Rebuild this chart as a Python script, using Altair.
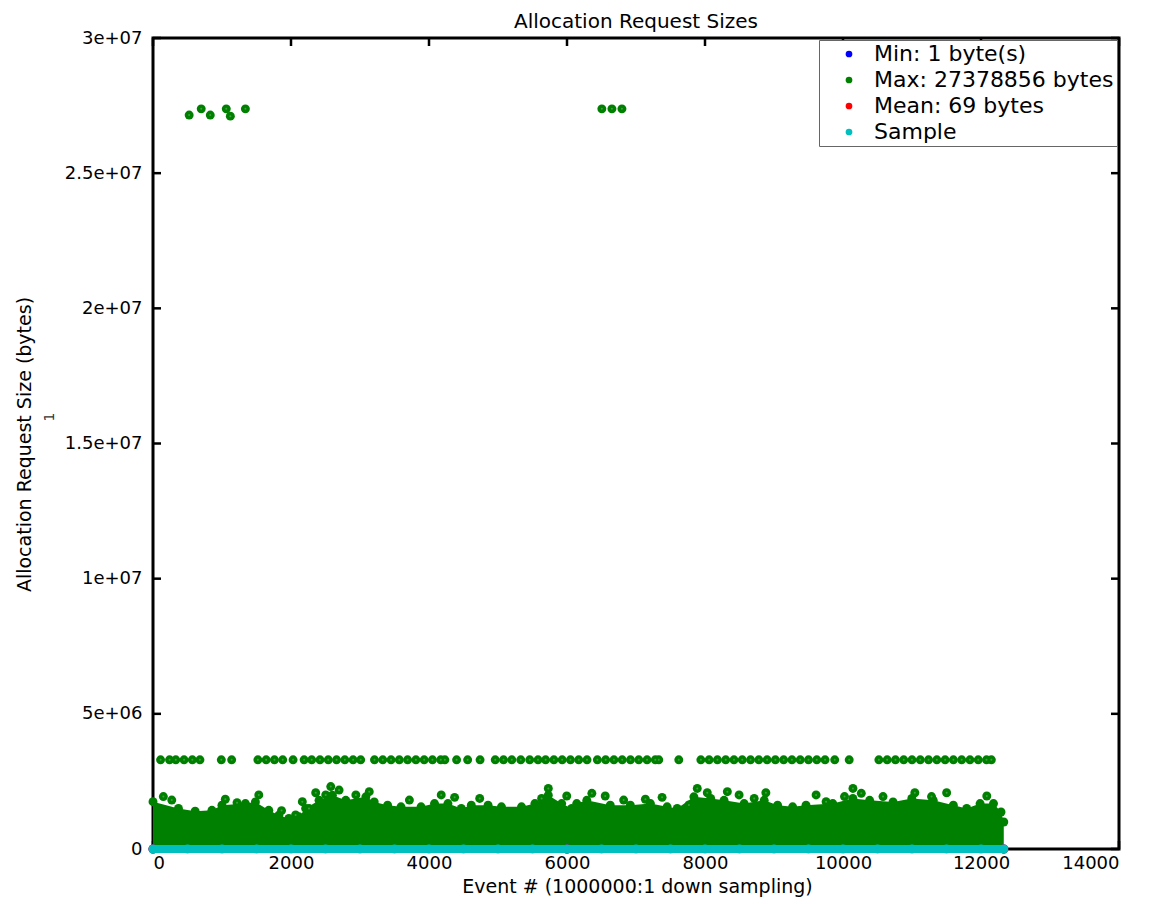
import altair as alt
import pandas as pd

# ---------------- data ----------------
X_TICKS = [0, 2000, 4000, 6000, 8000, 10000, 12000, 14000]
Y_TICKS = [0, 5000000, 10000000, 15000000, 20000000, 25000000, 30000000]
Y_TICK_LABELS = ["0", "5e+06", "1e+07", "1.5e+07", "2e+07", "2.5e+07", "3e+07"]

SERIES = ["Min: 1 byte(s)", "Max: 27378856 bytes", "Mean: 69 bytes", "Sample"]
COLORS = ["#0000ff", "#008000", "#ff0000", "#00bfbf"]

# Max: upper edge of the dense cloud of maxima (bytes)
body_x = [0, 369, 611, 854, 999, 1339, 1484, 1678, 1824, 1969, 2115, 2212, 2406, 2600,
          2794, 3085, 3206, 3400, 3594, 3885, 4080, 4274, 4468, 4613, 4856, 5050, 5341,
          5535, 5729, 5923, 6068, 6141, 6287, 6627, 6918, 7209, 7451, 7597, 7839, 8082,
          8276, 8567, 8858, 9052, 9270, 9464, 9852, 10143, 10386, 10725, 10997, 11308,
          11599, 11793, 11987, 12181, 12290, 12330]
body_y = [1.75e6, 1.50e6, 1.40e6, 1.43e6, 1.62e6, 1.68e6, 1.74e6, 1.43e6, 1.25e6, 1.13e6,
          1.19e6, 1.50e6, 1.80e6, 1.99e6, 1.80e6, 1.93e6, 1.74e6, 1.62e6, 1.56e6, 1.56e6,
          1.68e6, 1.68e6, 1.50e6, 1.62e6, 1.62e6, 1.56e6, 1.56e6, 1.68e6, 1.99e6, 1.68e6,
          1.50e6, 1.68e6, 1.80e6, 1.62e6, 1.62e6, 1.68e6, 1.56e6, 1.50e6, 1.93e6, 1.87e6,
          1.80e6, 1.68e6, 1.80e6, 1.62e6, 1.56e6, 1.62e6, 1.68e6, 1.87e6, 1.80e6, 1.74e6,
          1.87e6, 1.80e6, 1.62e6, 1.50e6, 1.68e6, 1.68e6, 1.37e6, 1.00e6]

# Max: single maxima standing above the cloud
peak_x = [150, 272, 1048, 1218, 1533, 1863, 2067, 2164, 2261, 2358, 2503, 2576, 2697, 2940,
          3134, 3716, 4177, 4371, 4735, 5632, 5729, 5996, 6360, 6554, 6821, 7136, 7378,
          7767, 7888, 8033, 8324, 8494, 8713, 8882, 9610, 9755, 10022, 10144, 10265, 10580,
          11041, 11283, 11502, 12084]
peak_y = [1.94e6, 1.81e6, 1.84e6, 1.71e6, 2.00e6, 1.42e6, 1.26e6, 1.75e6, 1.50e6, 2.08e6,
          2.00e6, 2.31e6, 2.18e6, 2.00e6, 2.12e6, 1.81e6, 2.00e6, 1.91e6, 1.87e6, 1.87e6,
          2.24e6, 1.96e6, 2.06e6, 1.96e6, 1.81e6, 1.84e6, 1.91e6, 1.63e6, 2.24e6, 2.08e6,
          2.12e6, 2.00e6, 1.87e6, 2.08e6, 2.00e6, 1.75e6, 1.94e6, 2.24e6, 2.06e6, 1.94e6,
          2.08e6, 1.94e6, 2.08e6, 1.96e6]

# Max: the recurring ~3.3 MB requests
band_x = [110, 240, 330, 450, 570, 680, 990, 1140, 1520, 1640, 1760, 1880, 2030,
          2190, 2300, 2420, 2540, 2660, 2780, 2900, 3010, 3210, 3330, 3450, 3570, 3690,
          3810, 3930, 4050, 4170, 4230, 4400, 4560, 4740, 4960, 5080, 5200, 5330, 5460,
          5580, 5690, 5810, 5930, 6050, 6170, 6290, 6440, 6560, 6680, 6800, 6920, 7040,
          7160, 7280, 7330, 7620, 7940, 8060, 8180, 8300, 8420, 8540, 8660, 8780, 8900,
          9020, 9140, 9260, 9380, 9500, 9620, 9740, 9880, 10090, 10520, 10640, 10760,
          10880, 11000, 11120, 11240, 11360, 11480, 11600, 11720, 11840, 11960, 12080, 12150]
band_y = [3300000] * len(band_x)

# Max: the largest requests (~27 MB)
top_x = [524, 699, 830, 1062, 1121, 1339, 6505, 6651, 6796]
top_y = [27150000, 27378856, 27150000, 27378856, 27110000, 27378856,
         27378856, 27378856, 27378856]

# Sample, Min, Mean (all at the bottom of the scale)
sample_x = [0, 500, 1000, 1500, 2000, 2500, 3000, 3500, 4000, 4500, 5000, 5500, 6000,
            6500, 7000, 7500, 8000, 8500, 9000, 9500, 10000, 10500, 11000, 11500, 12000, 12330]
sample_y = [64, 48, 72, 32, 96, 40, 64, 56, 80, 24, 64, 48, 72, 88, 40, 64, 56, 32, 72,
            48, 64, 80, 40, 56, 64, 48]
min_x = [0, 6000, 12330]
min_y = [1, 1, 1]
mean_x = [0, 6000, 12330]
mean_y = [69, 69, 69]

# ---------------- tables ----------------
def frame(xs, ys, s):
    return pd.DataFrame({"x": xs, "y": ys, "series": s})

points = pd.concat([
    frame(min_x, min_y, SERIES[0]),
    frame(mean_x, mean_y, SERIES[2]),
    frame(body_x, body_y, SERIES[1]),
    frame(peak_x, peak_y, SERIES[1]),
    frame(band_x, band_y, SERIES[1]),
    frame(top_x, top_y, SERIES[1]),
    frame(sample_x, sample_y, SERIES[3]),
], ignore_index=True)

gear = pd.concat([
    frame(peak_x, peak_y, SERIES[1]),
    frame(band_x, band_y, SERIES[1]),
    frame(top_x, top_y, SERIES[1]),
], ignore_index=True)

body = frame(body_x, body_y, SERIES[1])
sample = frame(sample_x, sample_y, SERIES[3])
xticks = pd.DataFrame({"x": X_TICKS})
yticks = pd.DataFrame({"y": Y_TICKS})

W, H = 966, 811
FONT = "DejaVu Sans"

xscale = alt.Scale(domain=[0, 14000], nice=False, zero=False)
yscale = alt.Scale(domain=[0, 30000000], nice=False, zero=False)

ylabel_expr = " : ".join(
    f"datum.value == {v} ? '{l}'" for v, l in zip(Y_TICKS, Y_TICK_LABELS)
) + " : ''"

x_axis = alt.Axis(values=X_TICKS, format="d", labelFontSize=18, labelPadding=5,
                  labelFont=FONT, title="Event # (1000000:1 down sampling)",
                  titleFontSize=19, titleFont=FONT, titleX=484, titleY=43,
                  titleAlign="center", titleBaseline="alphabetic",
                  titleFontWeight="normal")
y_axis = alt.Axis(values=Y_TICKS, labelExpr=ylabel_expr, labelFontSize=18,
                  labelPadding=11, labelFont=FONT,
                  title="Allocation Request Size (bytes)", titleFontSize=19,
                  titleFont=FONT, titleX=-129, titleY=406, titleAngle=270,
                  titleAlign="center", titleBaseline="middle",
                  titleFontWeight="normal")


def X():
    return alt.X("x:Q", scale=xscale, axis=x_axis)


def Y():
    return alt.Y("y:Q", scale=yscale, axis=y_axis)


TL = 8  # inward tick length

top_ticks = alt.Chart(xticks).mark_rule(color="black", strokeWidth=2.5).encode(
    x=X(), y=alt.value(0), y2=alt.value(TL))
bot_ticks = alt.Chart(xticks).mark_rule(color="black", strokeWidth=2.5).encode(
    x=X(), y=alt.value(H - TL), y2=alt.value(H))
left_ticks = alt.Chart(yticks).mark_rule(color="black", strokeWidth=2.5).encode(
    y=Y(), x=alt.value(0), x2=alt.value(TL))
right_ticks = alt.Chart(yticks).mark_rule(color="black", strokeWidth=2.5).encode(
    y=Y(), x=alt.value(W - TL), x2=alt.value(W))

cloud = alt.Chart(body).mark_area(color="#008000", opacity=1, interpolate="linear").encode(
    x=X(), y=Y())

pts = alt.Chart(points).mark_circle(size=80, opacity=1).encode(
    x=X(), y=Y(),
    color=alt.Color("series:N",
                    scale=alt.Scale(domain=SERIES, range=COLORS),
                    legend=alt.Legend(title=None, orient="top-right", offset=2,
                                      padding=3, strokeColor="#666666",
                                      fillColor="white", labelFontSize=22,
                                      labelFont=FONT, labelColor="black",
                                      labelLimit=500,
                                      symbolType="circle", symbolSize=45,
                                      symbolOffset=16, labelOffset=14,
                                      rowPadding=4, symbolStrokeWidth=0)),
)

gear_dots = alt.Chart(gear).mark_circle(size=4, opacity=1, color="#3f9f3f").encode(
    x=X(), y=Y())

sample_line = alt.Chart(sample).mark_line(color="#00bfbf", strokeWidth=8,
                                          strokeCap="round").encode(
    x=X(), y=Y())

stray = alt.Chart(pd.DataFrame({"t": ["1"]})).mark_text(
    angle=270, fontSize=14, font=FONT, color="#333333").encode(
    text="t:N", x=alt.value(-103), y=alt.value(379))

chart = alt.layer(
    top_ticks, bot_ticks, left_ticks, right_ticks, cloud, pts, gear_dots,
    sample_line, stray
).properties(
    width=W, height=H,
    title=alt.TitleParams("Allocation Request Sizes", fontSize=20, font=FONT,
                          fontWeight="normal", color="black", offset=0, dy=3,
                          anchor="middle"),
    autosize=alt.AutoSizeParams(type="none"),
    padding={"left": 145, "top": 30, "right": 35, "bottom": 48},
).configure_view(
    stroke="black", strokeWidth=3
).configure_axis(
    domain=False, ticks=False, grid=False, labelColor="black", titleColor="black"
)

chart.save("out.html", embed_options={"renderer": "svg", "actions": False})
